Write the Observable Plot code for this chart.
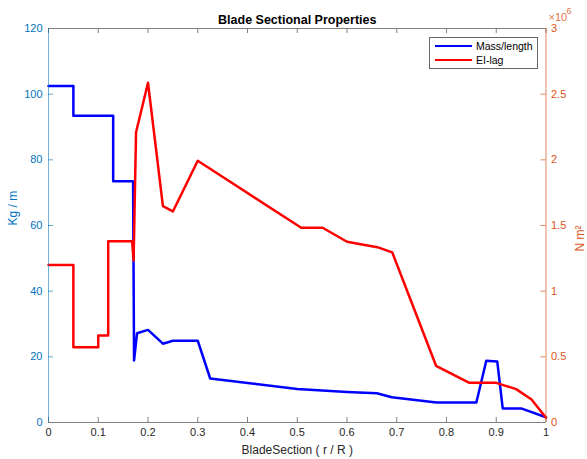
<!DOCTYPE html>
<html>
<head>
<meta charset="utf-8">
<script src="https://cdn.jsdelivr.net/npm/d3@7"></script>
<script src="https://cdn.jsdelivr.net/npm/@observablehq/plot@0.6"></script>
<style>
  body { margin: 0; background: #fff; font-family: "Liberation Sans", Arial, Helvetica, sans-serif; }
  #chart { position: relative; width: 587px; height: 459px; }
  .legend { position: absolute; left: 429px; top: 37px; width: 107px; height: 30px;
            border: 1px solid #666; background: #fff; font-size: 10.5px; color: #000; }
  .legend .row { position: absolute; left: 5px; height: 12px; display: flex; align-items: center; }
  .legend .swatch { width: 37px; height: 0; border-top: 2.5px solid; margin-right: 4px; }
</style>
</head>
<body>
<div id="chart"></div>
<script>
// Spanwise position along the blade (r / R) and mass per unit length (kg/m)
const massSection = [0, 0.05, 0.05, 0.13, 0.13, 0.17, 0.172, 0.178, 0.2, 0.23, 0.25, 0.3, 0.325,
                     0.5, 0.6, 0.66, 0.69, 0.78, 0.86, 0.88, 0.902, 0.913, 0.95, 1.0];
const massPerLength = [102.5, 102.5, 93.4, 93.4, 73.5, 73.5, 18.9, 27.2, 28.2, 24.0, 24.9, 24.9, 13.4,
                       10.2, 9.3, 8.9, 7.7, 6.1, 6.1, 18.8, 18.6, 4.3, 4.3, 1.6];

// Spanwise position and lead-lag bending stiffness (×10^6 N m^2)
const eiSection = [0, 0.05, 0.05, 0.1, 0.1, 0.12, 0.12, 0.168, 0.171, 0.176, 0.2, 0.23, 0.25, 0.3,
                   0.508, 0.551, 0.6, 0.661, 0.691, 0.779, 0.846, 0.9, 0.94, 0.971, 1.0];
const eiLag = [1.2, 1.2, 0.573, 0.573, 0.663, 0.663, 1.381, 1.381, 1.234, 2.21, 2.587, 1.647, 1.607, 1.993,
               1.483, 1.483, 1.376, 1.335, 1.295, 0.432, 0.302, 0.302, 0.254, 0.175, 0.036];

// Axis ticks
const xTicks = [0, 0.1, 0.2, 0.3, 0.4, 0.5, 0.6, 0.7, 0.8, 0.9, 1];
const leftTicks = [0, 20, 40, 60, 80, 100, 120];
const rightTicks = [0, 0.5, 1, 1.5, 2, 2.5, 3];

const title = "Blade Sectional Properties";
const xLabel = "BladeSection ( r / R )";
const leftLabel = "Kg / m";
const rightLabel = "N m\u00B2";
const rightExpBase = "\u00D710";
const rightExpPower = "6";
const seriesNames = ["Mass/length", "EI-lag"];

const leftDomain = [0, 120];
const rightDomain = [0, 3];
const k = leftDomain[1] / rightDomain[1]; // right-axis units → left-axis units

const blue = "#0000ff", red = "#ff0000";
const leftColor = "#0072BD", rightColor = "#D95319";
const axisGray = "#808080", textGray = "#262626";

const width = 587, height = 459;
const margin = {top: 28, right: 41.5, bottom: 37, left: 48};
const W = width - margin.left - margin.right;
const H = height - margin.top - margin.bottom;
const tickLen = 5;

const massRows = massSection.map((r, i) => ({r, v: massPerLength[i]}));
const eiRows = eiSection.map((r, i) => ({r, v: eiLag[i]}));
const fmt = d3.format("~g");

const chart = Plot.plot({
  width, height,
  marginTop: margin.top, marginRight: margin.right, marginBottom: margin.bottom, marginLeft: margin.left,
  style: {fontFamily: '"Liberation Sans", Arial, Helvetica, sans-serif', background: "#fff"},
  x: {domain: [0, 1]},
  y: {domain: leftDomain},
  marks: [
    // inward ticks on all four sides
    Plot.tickX(xTicks, {x: d => d, stroke: axisGray, insetBottom: H - tickLen}),
    Plot.tickX(xTicks, {x: d => d, stroke: axisGray, insetTop: H - tickLen}),
    Plot.tickY(leftTicks, {y: d => d, stroke: leftColor, strokeOpacity: 0.6, insetRight: W - tickLen}),
    Plot.tickY(rightTicks, {y: d => d * k, stroke: rightColor, strokeOpacity: 0.7, insetLeft: W - tickLen}),
    // tick labels
    Plot.axisX(xTicks, {anchor: "bottom", tickSize: 0, tickPadding: 6, tickFormat: fmt,
                        fill: textGray, fontSize: 11, label: null}),
    Plot.axisY(leftTicks, {anchor: "left", tickSize: 0, tickPadding: 6, tickFormat: fmt,
                           fill: leftColor, fontSize: 11, label: null}),
    Plot.axisY(rightTicks.map(d => d * k), {anchor: "right", tickSize: 0, tickPadding: 5,
                           tickFormat: d => fmt(d / k), fill: rightColor, fontSize: 11, label: null}),
    // data
    Plot.line(massRows, {x: "r", y: "v", stroke: blue, strokeWidth: 2.5, strokeLinejoin: "round"}),
    Plot.line(eiRows, {x: "r", y: d => d.v * k, stroke: red, strokeWidth: 2.5, strokeLinejoin: "round"}),
    // axis box
    Plot.ruleY([leftDomain[0]], {stroke: axisGray}),
    Plot.ruleY([leftDomain[1]], {stroke: axisGray}),
    Plot.ruleX([0], {stroke: leftColor, strokeOpacity: 0.55}),
    Plot.ruleX([1], {stroke: rightColor, strokeOpacity: 0.7}),
    // titles and labels
    Plot.text([title], {frameAnchor: "top", dy: -13, fontSize: 12.5, fontWeight: "bold", fill: "#000"}),
    Plot.text([xLabel], {frameAnchor: "bottom", dy: 31, fontSize: 12, fill: textGray}),
    Plot.text([leftLabel], {frameAnchor: "left", dx: -35, rotate: -90, fontSize: 12, fill: leftColor}),
    Plot.text([rightLabel], {frameAnchor: "right", dx: 34, rotate: -90, fontSize: 12, fill: rightColor}),
    Plot.text([rightExpBase], {frameAnchor: "top-right", dx: 2.5, dy: -15.5, textAnchor: "start",
                               fontSize: 11, fill: rightColor, fillOpacity: 0.85}),
    Plot.text([rightExpPower], {frameAnchor: "top-right", dx: 20.5, dy: -20.5, textAnchor: "start",
                                fontSize: 9, fill: rightColor, fillOpacity: 0.85})
  ]
});

const container = document.getElementById("chart");
container.appendChild(chart);

// legend box in the upper-right corner of the axes
const legend = document.createElement("div");
legend.className = "legend";
[[seriesNames[0], blue, 2], [seriesNames[1], red, 16]].forEach(([name, color, top]) => {
  const row = document.createElement("div");
  row.className = "row";
  row.style.top = top + "px";
  const sw = document.createElement("span");
  sw.className = "swatch";
  sw.style.borderColor = color;
  const label = document.createElement("span");
  label.textContent = name;
  row.append(sw, label);
  legend.appendChild(row);
});
container.appendChild(legend);
</script>
</body>
</html>
